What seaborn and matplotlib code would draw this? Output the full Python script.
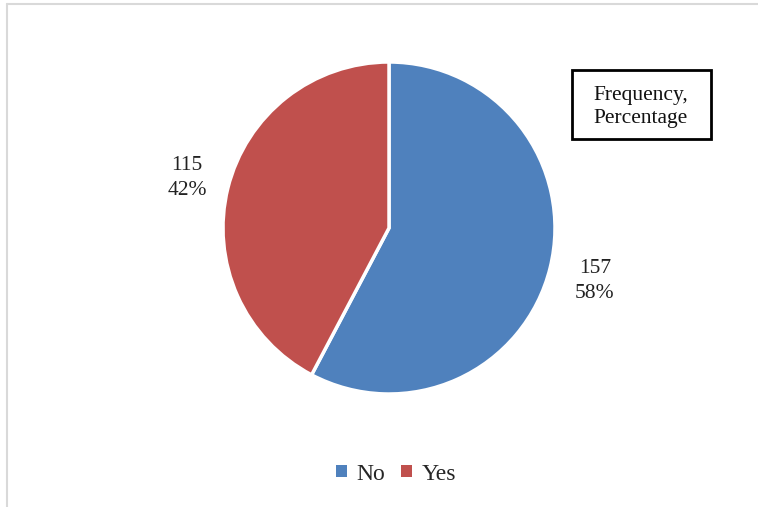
import matplotlib
matplotlib.use("Agg")
import matplotlib.pyplot as plt
import seaborn as sns
from matplotlib.lines import Line2D
from matplotlib.patches import Rectangle, Patch

# data
categories = ["No", "Yes"]
counts = [157, 115]
percents = ["58%", "42%"]
colors = ["#4F81BD", "#C0504D"]

sns.set_theme(style="white")
plt.rcParams['font.family'] = ['Liberation Serif', 'DejaVu Serif']

W, H = 758, 507
fig = plt.figure(figsize=(W / 100, H / 100), dpi=100)

# chart frame (light gray border at top and left)
fig.add_artist(Line2D([7 / W, 7 / W], [0, 1 - 3.5 / H], transform=fig.transFigure,
                      color="#d9d9d9", lw=1.5))
fig.add_artist(Line2D([7 / W, 1], [1 - 3.5 / H, 1 - 3.5 / H], transform=fig.transFigure,
                      color="#d9d9d9", lw=1.5))

# pie axes placed in pixel space
cx, cy, r = 389, 228, 166
ax = fig.add_axes([(cx - r) / W, 1 - (cy + r) / H, 2 * r / W, 2 * r / H])
ax.pie(counts, colors=colors, startangle=90, counterclock=False,
       wedgeprops=dict(edgecolor="white", linewidth=2.5))
ax.set_xlim(-1, 1)
ax.set_ylim(-1, 1)
ax.set_aspect("auto")
ax.axis("off")

# data labels
label_pos = [(595, 281), (187, 178)]
for (px, py), c, p in zip(label_pos, counts, percents):
    fig.text(px / W, 1 - py / H, f"{c}\n{p}", ha="center", va="center",
             fontsize=15.5, linespacing=1.45, color="#222222")

# annotation box
fig.add_artist(Rectangle((572 / W, 1 - 139 / H), 139 / W, 69 / H,
                         transform=fig.transFigure, fill=False,
                         edgecolor="black", lw=2))
fig.text(641 / W, 1 - 107 / H, "Frequency,\nPercentage", ha="center", va="center",
         fontsize=15.5, linespacing=1.3, color="#111111")

# legend
handles = [Patch(facecolor=c, edgecolor="none") for c in colors]
fig.legend(handles, categories, loc="center", bbox_to_anchor=(396 / W, 1 - 474 / H),
           ncol=2, frameon=False, fontsize=17, handlelength=0.45, handleheight=0.45,
           handletextpad=0.4, columnspacing=0.7)

fig.savefig("out.png", dpi=100)
